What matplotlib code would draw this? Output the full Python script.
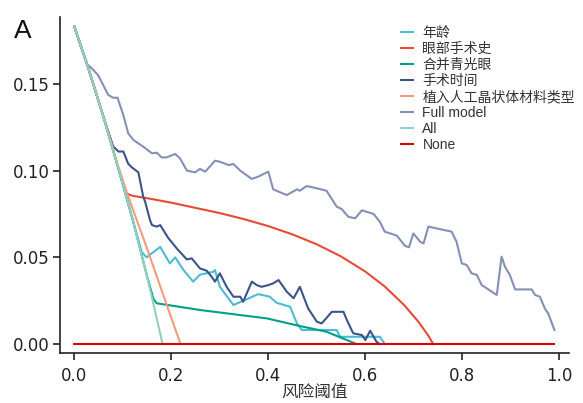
import matplotlib
matplotlib.use("Agg")
import matplotlib.pyplot as plt

plt.rcParams['font.family'] = ['Liberation Sans', 'Noto Sans CJK SC', 'DejaVu Sans']

# Decision-curve data: threshold probability -> net benefit
age_x = [0, 0.03, 0.06, 0.09, 0.12, 0.139, 0.149, 0.177, 0.197, 0.208, 0.225, 0.245, 0.259,
         0.287, 0.29, 0.30, 0.328, 0.352, 0.379, 0.403, 0.417, 0.445, 0.459, 0.469, 0.541,
         0.548, 0.63, 0.64]
age_y = [0.183, 0.158, 0.131, 0.102, 0.072, 0.053, 0.050, 0.056, 0.0465, 0.050, 0.0427, 0.036,
         0.040, 0.0417, 0.0427, 0.033, 0.0225, 0.0254, 0.0288, 0.0273, 0.0238, 0.0215, 0.0119,
         0.0081, 0.0081, 0.0042, 0.0042, 0.0]

surg_x = [0, 0.03, 0.06, 0.09, 0.106, 0.12, 0.16, 0.2, 0.25, 0.3, 0.35, 0.4, 0.45, 0.5,
          0.55, 0.6, 0.64, 0.68, 0.71, 0.73, 0.74]
surg_y = [0.183, 0.158, 0.131, 0.102, 0.087, 0.0855, 0.0836, 0.0815, 0.0785, 0.0755, 0.072,
          0.068, 0.0632, 0.0575, 0.0505, 0.0418, 0.0332, 0.0225, 0.0127, 0.0048, 0.0]

glau_x = [0, 0.03, 0.06, 0.09, 0.12, 0.15, 0.163, 0.17, 0.26, 0.397, 0.465, 0.52, 0.562, 0.582]
glau_y = [0.183, 0.158, 0.131, 0.102, 0.072, 0.039, 0.026, 0.0235, 0.0196, 0.0148, 0.0104,
          0.0071, 0.0023, 0.0]

time_x = [0, 0.03, 0.06, 0.08, 0.091, 0.101, 0.111, 0.118, 0.132, 0.142, 0.146, 0.156, 0.16,
          0.17, 0.177, 0.194, 0.214, 0.232, 0.242, 0.259, 0.273, 0.283, 0.29, 0.30, 0.314,
          0.328, 0.342, 0.348, 0.366, 0.376, 0.386, 0.40, 0.41, 0.421, 0.438, 0.452, 0.465,
          0.482, 0.50, 0.51, 0.531, 0.555, 0.562, 0.575, 0.593, 0.60, 0.61, 0.623, 0.63]
time_y = [0.183, 0.158, 0.131, 0.114, 0.111, 0.111, 0.104, 0.102, 0.099, 0.085, 0.082, 0.0715,
          0.0686, 0.0677, 0.0686, 0.061, 0.0542, 0.0488, 0.0494, 0.0436, 0.0423, 0.0388, 0.036,
          0.0408, 0.033, 0.0273, 0.0273, 0.0244, 0.036, 0.034, 0.033, 0.034, 0.035, 0.0369,
          0.0302, 0.0264, 0.033, 0.0206, 0.0129, 0.0119, 0.0186, 0.0186, 0.0138, 0.0062,
          0.0052, 0.0023, 0.0077, 0.0013, 0.0]

iol_x = [0, 0.03, 0.06, 0.09, 0.11, 0.15, 0.19, 0.219]
iol_y = [0.183, 0.158, 0.131, 0.103, 0.086, 0.055, 0.023, 0.0]

full_x = [0, 0.012, 0.027, 0.036, 0.049, 0.07, 0.08, 0.089, 0.101, 0.111, 0.122, 0.142, 0.16,
          0.17, 0.18, 0.19, 0.208, 0.218, 0.232, 0.249, 0.259, 0.27, 0.29, 0.30, 0.318, 0.328,
          0.342, 0.366, 0.379, 0.40, 0.41, 0.438, 0.459, 0.465, 0.479, 0.50, 0.52, 0.541,
          0.551, 0.565, 0.579, 0.593, 0.617, 0.63, 0.64, 0.665, 0.682, 0.69, 0.699, 0.713,
          0.72, 0.73, 0.778, 0.788, 0.799, 0.809, 0.819, 0.83, 0.84, 0.871, 0.881, 0.888,
          0.898, 0.909, 0.943, 0.95, 0.96, 0.97, 0.977, 0.99]
full_y = [0.183, 0.173, 0.161, 0.159, 0.155, 0.1436, 0.142, 0.142, 0.132, 0.1215, 0.1176,
          0.1138, 0.110, 0.1103, 0.1076, 0.1076, 0.1096, 0.107, 0.100, 0.099, 0.101, 0.0994,
          0.1057, 0.1051, 0.1032, 0.1038, 0.100, 0.0952, 0.0965, 0.0994, 0.0892, 0.0859,
          0.0892, 0.0884, 0.0911, 0.0898, 0.0884, 0.0792, 0.0779, 0.0734, 0.0725, 0.0771,
          0.0750, 0.0705, 0.0648, 0.0625, 0.0566, 0.0558, 0.0638, 0.059, 0.058, 0.0677,
          0.0648, 0.059, 0.0465, 0.0456, 0.0408, 0.0398, 0.034, 0.0283, 0.0504, 0.0446,
          0.0398, 0.0315, 0.0315, 0.0283, 0.0273, 0.0206, 0.0177, 0.0081]

all_x = [0, 0.03, 0.06, 0.09, 0.12, 0.15, 0.182]
all_y = [0.183, 0.158, 0.131, 0.102, 0.072, 0.039, 0.0]

none_x = [0, 0.99]
none_y = [0.0, 0.0]

series = [
    ("年龄", age_x, age_y, "#4DBBD5"),
    ("眼部手术史", surg_x, surg_y, "#E64B35"),
    ("合并青光眼", glau_x, glau_y, "#00A087"),
    ("手术时间", time_x, time_y, "#3C5488"),
    ("植入人工晶状体材料类型", iol_x, iol_y, "#F39B7F"),
    ("Full model", full_x, full_y, "#8491B4"),
    ("All", all_x, all_y, "#91D1C2"),
    ("None", none_x, none_y, "#DC0000"),
]

fig = plt.figure(figsize=(5.83, 4.03), dpi=100)
ax = fig.add_axes([0.103, 0.123, 0.873, 0.835])

for label, xs, ys, color in series:
    ax.plot(xs, ys, color=color, lw=1.5, label=label, solid_joinstyle='round')

ax.set_xlim(-0.0295, 1.02)
ax.set_ylim(-0.0054, 0.1886)
ax.set_xticks([0.0, 0.2, 0.4, 0.6, 0.8, 1.0])
ax.set_xticklabels(["0.0", "0.2", "0.4", "0.6", "0.8", "1.0"])
ax.set_yticks([0.0, 0.05, 0.10, 0.15])
ax.set_yticklabels(["0.00", "0.05", "0.10", "0.15"])

for side in ("top", "right"):
    ax.spines[side].set_visible(False)
for side in ("left", "bottom"):
    ax.spines[side].set_linewidth(1.2)
    ax.spines[side].set_color("#222222")
ax.tick_params(axis="both", direction="out", length=5, width=1.2, color="#222222",
               labelsize=12, labelcolor="#222222")
ax.tick_params(axis="x", pad=5)
ax.tick_params(axis="y", pad=2.5)
for lab in ax.get_xticklabels() + ax.get_yticklabels():
    lab.set_family(['DejaVu Sans'])

ax.set_xlabel("风险阈值", family=['Noto Sans CJK SC'], fontsize=12, color="#333333",
              labelpad=-1)

fig.text(0.024, 0.905, "A", fontsize=19, family=['Liberation Sans'], color="#111111")

leg = ax.legend(loc="upper left", bbox_to_anchor=(0.679, 0.95), bbox_transform=fig.transFigure,
                frameon=False, fontsize=10, handlelength=0.83, handletextpad=0.68,
                labelspacing=0.15, borderaxespad=0)
for t in leg.get_texts():
    t.set_color("#333333")
    t.set_family(['Liberation Sans', 'Noto Sans CJK SC'])

fig.savefig("out.png", dpi=100)
